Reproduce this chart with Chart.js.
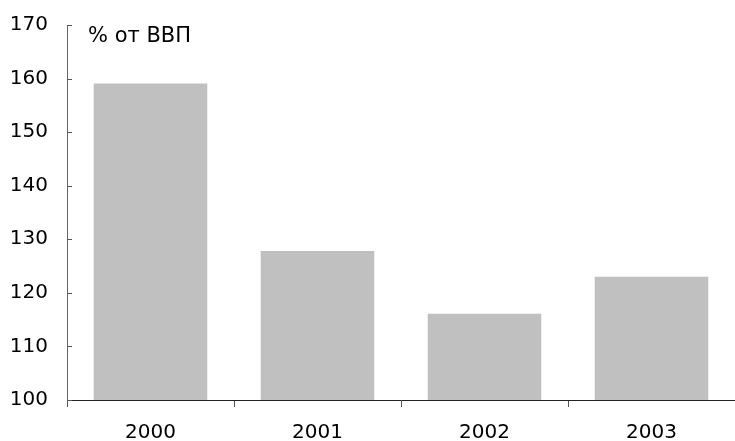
<!DOCTYPE html>
<html>
<head>
<meta charset="utf-8">
<script src="https://cdn.jsdelivr.net/npm/chart.js@4/dist/chart.umd.min.js"></script>
<style>
  html, body { margin: 0; padding: 0; background: #fff; }
  #wrap { width: 735px; height: 441px; }
</style>
</head>
<body>
<div id="wrap"><canvas id="chart" width="735" height="441"></canvas></div>
<script>
const years = ["2000", "2001", "2002", "2003"];
const values = [159.1, 127.8, 116.1, 123.0];
const yTicks = [100, 110, 120, 130, 140, 150, 160, 170];
const unitLabel = "% от ВВП";

const FONT = "'DejaVu Sans', Verdana, sans-serif";

// inward ticks on the y axis + unit label inside the plot
const decorations = {
  id: "decorations",
  afterDraw(chart) {
    const ctx = chart.ctx;
    const y = chart.scales.y;
    const area = chart.chartArea;
    ctx.save();
    ctx.strokeStyle = "#555";
    ctx.lineWidth = 1;
    y.ticks.forEach((t, i) => {
      const py = Math.round(y.getPixelForTick(i)) + 0.5;
      ctx.beginPath();
      ctx.moveTo(area.left, py);
      ctx.lineTo(area.left + 5, py);
      ctx.stroke();
    });
    ctx.fillStyle = "#000";
    ctx.font = "21px " + FONT;
    ctx.textBaseline = "middle";
    ctx.fillText(unitLabel, area.left + 21, area.top + 12);
    ctx.restore();
  }
};

new Chart(document.getElementById("chart"), {
  type: "bar",
  data: {
    labels: years,
    datasets: [{
      data: values,
      backgroundColor: "#C0C0C0",
      borderWidth: 0,
      barPercentage: 0.68,
      categoryPercentage: 1.0
    }]
  },
  options: {
    responsive: false,
    animation: false,
    layout: { padding: { top: 25, right: 0, left: 0, bottom: 0 } },
    plugins: { legend: { display: false }, tooltip: { enabled: false } },
    scales: {
      x: {
        offset: true,
        afterFit(scale) { scale.height = 41; },
        grid: {
          offset: true,
          drawOnChartArea: false,
          drawTicks: true,
          tickLength: 7,
          color: "#555"
        },
        border: { color: "#222", width: 1 },
        ticks: { color: "#000", font: { family: FONT, size: 20 }, padding: 14 }
      },
      y: {
        min: 100,
        max: 170,
        afterBuildTicks(scale) {
          scale.ticks = yTicks.map(v => ({ value: v }));
        },
        afterFit(scale) {
          scale.width = 67;
          scale.paddingTop = 0;
          scale.paddingBottom = 0;
        },
        grid: { drawOnChartArea: false, drawTicks: false },
        border: { color: "#666", width: 1 },
        ticks: { color: "#000", font: { family: FONT, size: 20 }, padding: 19 }
      }
    }
  },
  plugins: [decorations]
});
</script>
</body>
</html>
